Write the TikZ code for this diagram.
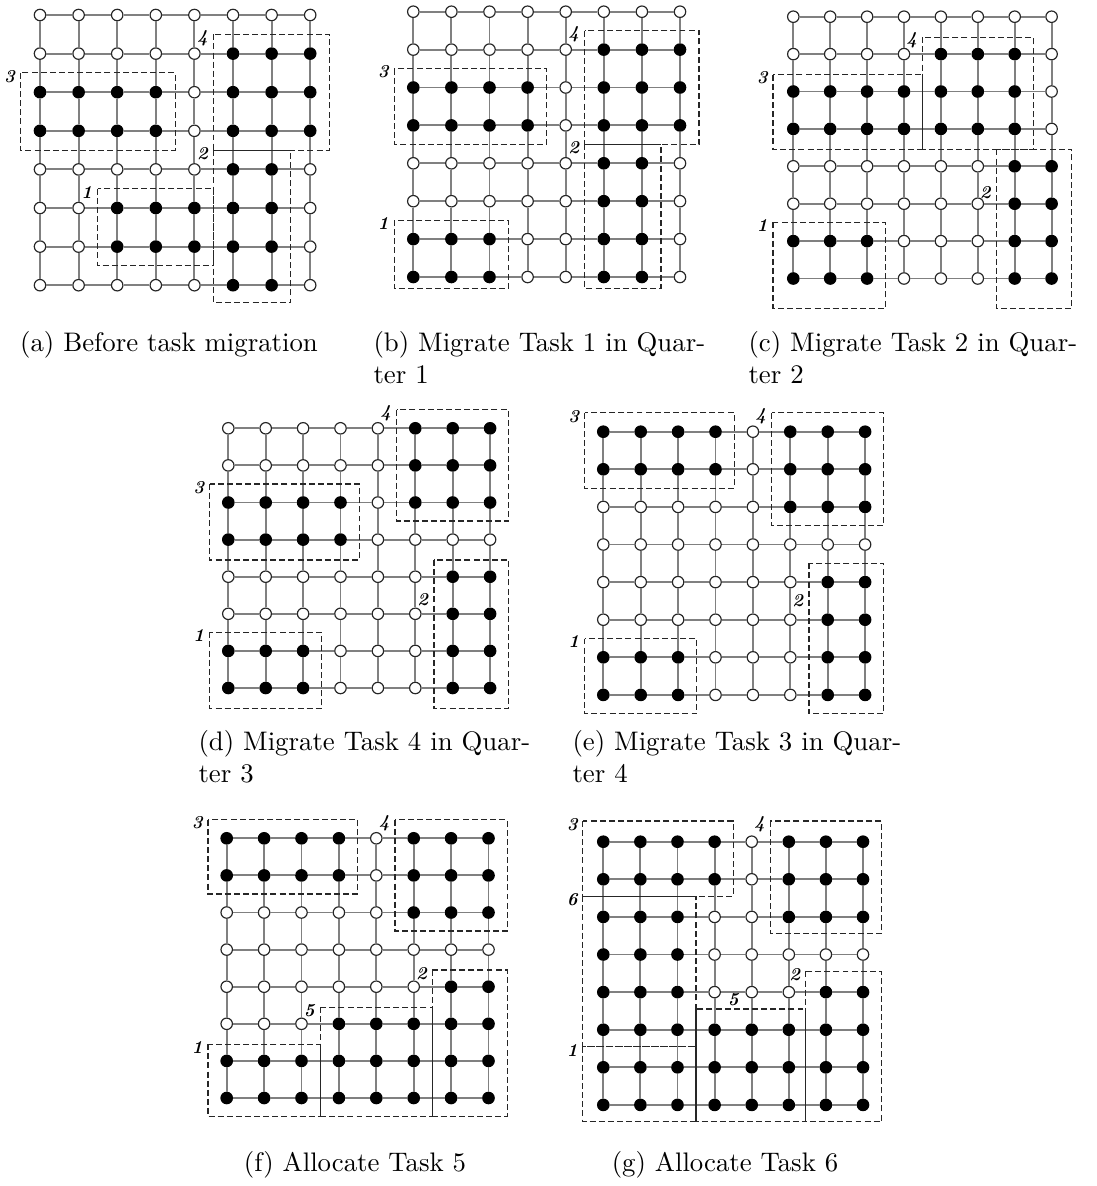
\documentclass[tikz,border=0pt]{standalone}
\usepackage{tikz}
\usetikzlibrary{calc}
\tikzset{
	pe0/.style={circle, draw=black!85, fill=white, line width=0.45pt, inner sep=0pt, minimum size=4.4pt},
	pe1/.style={circle, draw=black, fill=black, line width=0.45pt, inner sep=0pt, minimum size=4.4pt},
	link/.style={black!50, line width=0.75pt},
	taskline/.style={black!85, line width=0.45pt, dash pattern=on 2.3pt off 1.2pt},
	sharedline/.style={black!85, line width=0.45pt},
	tasklabel/.style={font=\fontsize{7}{8}\selectfont\bfseries\itshape, inner sep=0pt},
	subcap/.style={font=\fontsize{10.3}{12.4}\selectfont, align=left, inner sep=0pt},
}
% 8x8 mesh: #1 panel name, #2 rows of busy flags (top row first)
\newcommand{\meshgrid}[2]{%
	\foreach \row [count=\j from 0] in {#2} {
		\foreach \s [count=\i from 0] in \row {
			\node[pe\s] (#1-\i-\j) at (\i,\j) {};
		}
	}
	\foreach \i in {0,...,7} {
		\foreach \j [evaluate=\j as \k using int(\j+1)] in {0,...,6} {
			\draw[link] (#1-\i-\j) -- (#1-\i-\k);
			\draw[link] (#1-\j-\i) -- (#1-\k-\i);
		}
	}
}
% task region: [label position] panel, corner, corner, task number
\newcommand{\taskbox}[5][]{%
	\draw[taskline] (#3) rectangle (#4);
	\if\relax\detokenize{#1}\relax
		\node[tasklabel] (#2-t#5) at ($(#3)+(-0.29,0.09)$) {#5};
	\else
		\node[tasklabel] (#2-t#5) at (#1) {#5};
	\fi
}

\begin{document}
\begin{tikzpicture}[x=0.0135cm, y=-0.0135cm]
	\path[fill=white, use as bounding box] (0,0) rectangle (1096,1186);

	% (a)
	\begin{scope}[shift={(40,15)}, x={(38.6,0)}, y={(0,38.6)}]
		\meshgrid{a}{{0,0,0,0,0,0,0,0},{0,0,0,0,0,1,1,1},{1,1,1,1,0,1,1,1},{1,1,1,1,0,1,1,1},{0,0,0,0,0,1,1,0},{0,0,1,1,1,1,1,0},{0,0,1,1,1,1,1,0},{0,0,0,0,0,1,1,0}}
		\taskbox{a}{4.5,0.5}{7.5,3.5}{4}
		\taskbox{a}{-0.5,1.5}{3.5,3.5}{3}
		\taskbox{a}{4.5,3.5}{6.5,7.45}{2}
		\taskbox{a}{1.5,4.5}{4.5,6.5}{1}
		\draw[sharedline] (4.5,3.5) -- (6.5,3.5);
	\end{scope}

	% (b)
	\begin{scope}[shift={(413.3,11.7)}, x={(38.1,0)}, y={(0,37.9)}]
		\meshgrid{b}{{0,0,0,0,0,0,0,0},{0,0,0,0,0,1,1,1},{1,1,1,1,0,1,1,1},{1,1,1,1,0,1,1,1},{0,0,0,0,0,1,1,0},{0,0,0,0,0,1,1,0},{1,1,1,0,0,1,1,0},{1,1,1,0,0,1,1,0}}
		\taskbox{b}{4.5,0.5}{7.5,3.5}{4}
		\taskbox{b}{-0.5,1.5}{3.5,3.5}{3}
		\taskbox{b}{4.5,3.5}{6.5,7.3}{2}
		\taskbox{b}{-0.5,5.5}{2.5,7.3}{1}
		\draw[sharedline] (4.5,3.5) -- (6.5,3.5);
	\end{scope}

	% (c)
	\begin{scope}[shift={(793.3,16.7)}, x={(36.9,0)}, y={(0,37.4)}]
		\meshgrid{c}{{0,0,0,0,0,0,0,0},{0,0,0,0,1,1,1,0},{1,1,1,1,1,1,1,0},{1,1,1,1,1,1,1,0},{0,0,0,0,0,0,1,1},{0,0,0,0,0,0,1,1},{1,1,1,0,0,0,1,1},{1,1,1,0,0,0,1,1}}
		\taskbox{c}{3.5,0.55}{6.5,3.55}{4}
		\taskbox{c}{-0.55,1.55}{3.5,3.55}{3}
		\taskbox[5.2,4.7]{c}{5.5,3.55}{7.55,7.8}{2}
		\taskbox{c}{-0.55,5.5}{2.5,7.8}{1}
		\draw[sharedline] (3.5,1.55) -- (3.5,3.55);
	\end{scope}

	% (d)
	\begin{scope}[shift={(228.3,428.3)}, x={(37.4,0)}, y={(0,37.1)}]
		\meshgrid{d}{{0,0,0,0,0,1,1,1},{0,0,0,0,0,1,1,1},{1,1,1,1,0,1,1,1},{1,1,1,1,0,0,0,0},{0,0,0,0,0,0,1,1},{0,0,0,0,0,0,1,1},{1,1,1,0,0,0,1,1},{1,1,1,0,0,0,1,1}}
		\taskbox{d}{4.5,-0.5}{7.5,2.5}{4}
		\taskbox{d}{-0.5,1.5}{3.5,3.55}{3}
		\taskbox[5.2,4.63]{d}{5.5,3.55}{7.5,7.55}{2}
		\taskbox{d}{-0.5,5.5}{2.5,7.55}{1}
	\end{scope}

	% (e)
	\begin{scope}[shift={(603.3,431.7)}, x={(37.4,0)}, y={(0,37.6)}]
		\meshgrid{e}{{1,1,1,1,0,1,1,1},{1,1,1,1,0,1,1,1},{0,0,0,0,0,1,1,1},{0,0,0,0,0,0,0,0},{0,0,0,0,0,0,1,1},{0,0,0,0,0,0,1,1},{1,1,1,0,0,0,1,1},{1,1,1,0,0,0,1,1}}
		\taskbox{e}{-0.5,-0.5}{3.5,1.5}{3}
		\taskbox{e}{4.5,-0.5}{7.5,2.5}{4}
		\taskbox[5.2,4.5]{e}{5.5,3.5}{7.5,7.5}{2}
		\taskbox{e}{-0.5,5.5}{2.5,7.5}{1}
	\end{scope}

	% (f)
	\begin{scope}[shift={(226.7,838.3)}, x={(37.4,0)}, y={(0,37.1)}]
		\meshgrid{f}{{1,1,1,1,0,1,1,1},{1,1,1,1,0,1,1,1},{0,0,0,0,0,1,1,1},{0,0,0,0,0,0,0,0},{0,0,0,0,0,0,1,1},{0,0,0,1,1,1,1,1},{1,1,1,1,1,1,1,1},{1,1,1,1,1,1,1,1}}
		\taskbox{f}{-0.5,-0.5}{3.5,1.5}{3}
		\taskbox{f}{4.5,-0.5}{7.5,2.5}{4}
		\taskbox{f}{5.5,3.55}{7.5,7.5}{2}
		\taskbox{f}{2.5,4.55}{5.5,7.5}{5}
		\taskbox{f}{-0.5,5.55}{2.5,7.5}{1}
		\draw[sharedline] (5.5,4.55) -- (5.5,7.5);
	\end{scope}

	% (g)
	\begin{scope}[shift={(603.3,841.7)}, x={(37.1,0)}, y={(0,37.6)}]
		\meshgrid{g}{{1,1,1,1,0,1,1,1},{1,1,1,1,0,1,1,1},{1,1,1,0,0,1,1,1},{1,1,1,0,0,0,0,0},{1,1,1,0,0,0,1,1},{1,1,1,1,1,1,1,1},{1,1,1,1,1,1,1,1},{1,1,1,1,1,1,1,1}}
		\taskbox{g}{-0.55,-0.55}{3.5,1.45}{3}
		\taskbox{g}{4.5,-0.55}{7.5,2.45}{4}
		\taskbox{g}{-0.55,1.45}{2.5,5.45}{6}
		\taskbox{g}{-0.55,5.45}{2.5,7.45}{1}
		\taskbox[3.5,4.2]{g}{2.5,4.45}{5.45,7.45}{5}
		\taskbox{g}{5.45,3.45}{7.5,7.45}{2}
		\draw[sharedline] (-0.55,1.45) -- (2.5,1.45);
		\draw[sharedline] (5.45,4.45) -- (5.45,7.45);
	\end{scope}

	% captions
	\node[subcap, anchor=north] (cap-a) at (169,331) {(a) Before task migration};
	\node[subcap, anchor=north west] (cap-b) at (373,331) {(b) Migrate Task 1 in Quar-\\ter 1};
	\node[subcap, anchor=north west] (cap-c) at (748,331) {(c) Migrate Task 2 in Quar-\\ter 2};
	\node[subcap, anchor=north west] (cap-d) at (198,730) {(d) Migrate Task 4 in Quar-\\ter 3};
	\node[subcap, anchor=north west] (cap-e) at (572,730) {(e) Migrate Task 3 in Quar-\\ter 4};
	\node[subcap, anchor=north] (cap-f) at (355,1151) {(f) Allocate Task 5};
	\node[subcap, anchor=north] (cap-g) at (725,1151) {(g) Allocate Task 6};
\end{tikzpicture}
\end{document}
